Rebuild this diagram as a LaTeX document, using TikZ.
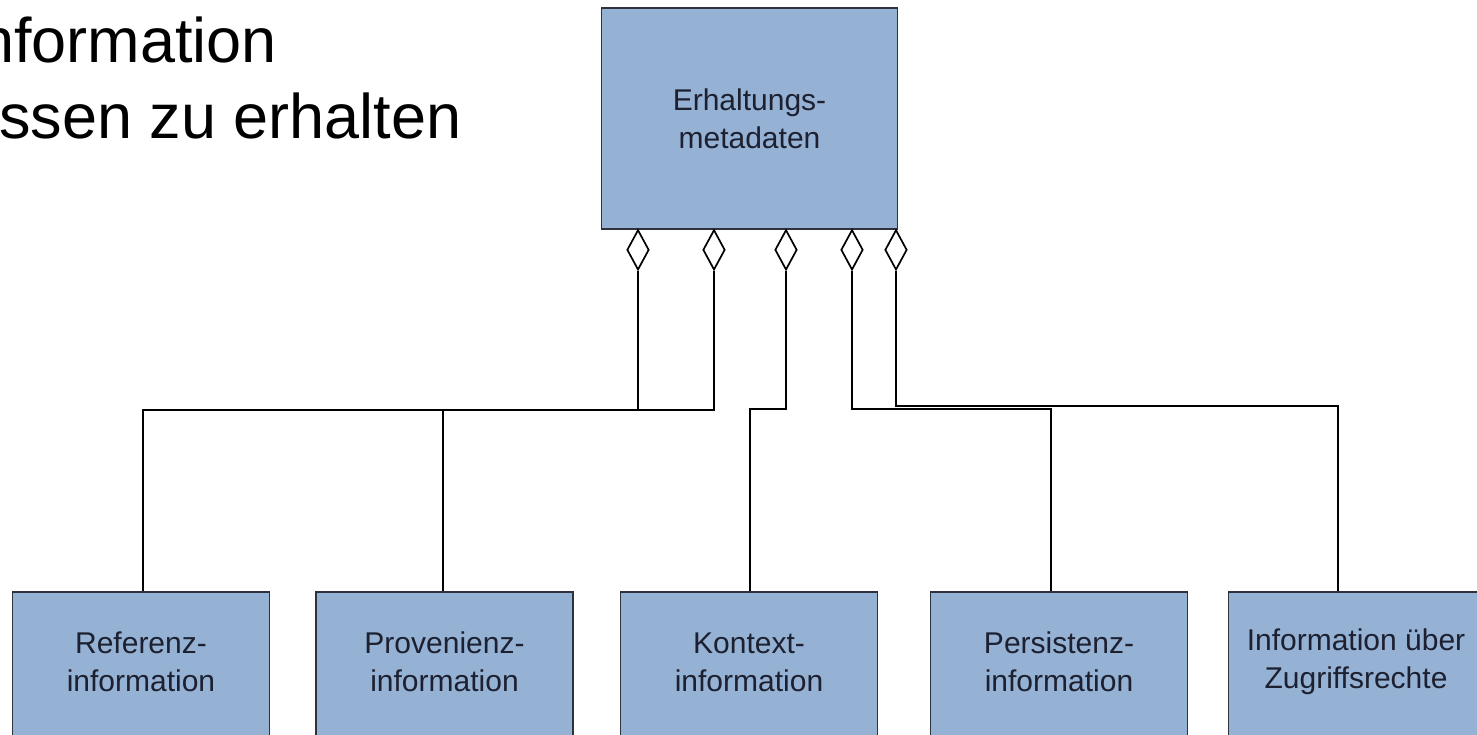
\documentclass[tikz,border=0pt]{standalone}
\usepackage{fontspec}
\setmainfont{Liberation Sans}
\usetikzlibrary{shapes.geometric}
\definecolor{boxfill}{RGB}{149,177,211}
\definecolor{boxline}{RGB}{45,50,60}
\definecolor{boxtext}{RGB}{28,32,48}
\tikzset{
  classbox/.style={draw=boxline, line width=1.5pt, fill=boxfill, inner sep=0pt,
    minimum width=257pt, text=boxtext, align=center,
    font=\fontsize{30}{38}\selectfont},
  partlabel/.style={text=boxtext, align=center, font=\fontsize{30}{38}\selectfont},
  aggr/.style={diamond, draw=black, fill=white, line width=1.7pt, inner sep=0pt,
    minimum width=22pt, minimum height=40pt},
  link/.style={draw=black, line width=1.8pt},
  heading/.style={anchor=base west, inner sep=0pt, font=\fontsize{63}{76}\selectfont}
}
\begin{document}
\begin{tikzpicture}[x=1pt, y=-1pt]
\useasboundingbox[fill=white] (0,0) rectangle (1477,734);

% slide text, running off the left edge
\node[heading] (h1) at (-21,62) {nformation};
\node[heading] (h2) at (-1,138) {ssen zu erhalten};

% whole
\node[classbox, minimum width=296pt, minimum height=221pt] (top) at (749.5,118.5)
  {Erhaltungs-\\metadaten};

% parts
\node[classbox, minimum height=150pt] (ref) at (141,667) {};
\node[classbox, minimum height=150pt] (prov) at (444.5,667) {};
\node[classbox, minimum height=150pt] (kont) at (749,667) {};
\node[classbox, minimum height=150pt] (pers) at (1059,667) {};
\node[classbox, minimum height=150pt] (zug) at (1357,667) {};

\node[partlabel] (lref) at (141,662) {Referenz-\\information};
\node[partlabel] (lprov) at (444.5,662) {Provenienz-\\information};
\node[partlabel] (lkont) at (749,662) {Kontext-\\information};
\node[partlabel] (lpers) at (1059,662) {Persistenz-\\information};
\node[partlabel] (lzug) at (1356,662) {Information über\\Zugriffsrechte};

% aggregation diamonds on the lower edge of the whole
\node[aggr, anchor=north] (d1) at (638,229) {};
\node[aggr, anchor=north] (d2) at (714,229) {};
\node[aggr, anchor=north] (d3) at (786,229) {};
\node[aggr, anchor=north] (d4) at (852,229) {};
\node[aggr, anchor=north] (d5) at (896,229) {};

% elbow points of the connectors
\coordinate (e1) at (143,410);
\coordinate (e2) at (443,410);
\coordinate (e3) at (750,409);
\coordinate (e4) at (1051,409);
\coordinate (e5) at (1338,406);

\draw[link] (d1.south) |- (e1) -- (e1 |- ref.north);
\draw[link] (d2.south) |- (e2) -- (e2 |- prov.north);
\draw[link] (d3.south) |- (e3) -- (e3 |- kont.north);
\draw[link] (d4.south) |- (e4) -- (e4 |- pers.north);
\draw[link] (d5.south) |- (e5) -- (e5 |- zug.north);
\end{tikzpicture}
\end{document}
